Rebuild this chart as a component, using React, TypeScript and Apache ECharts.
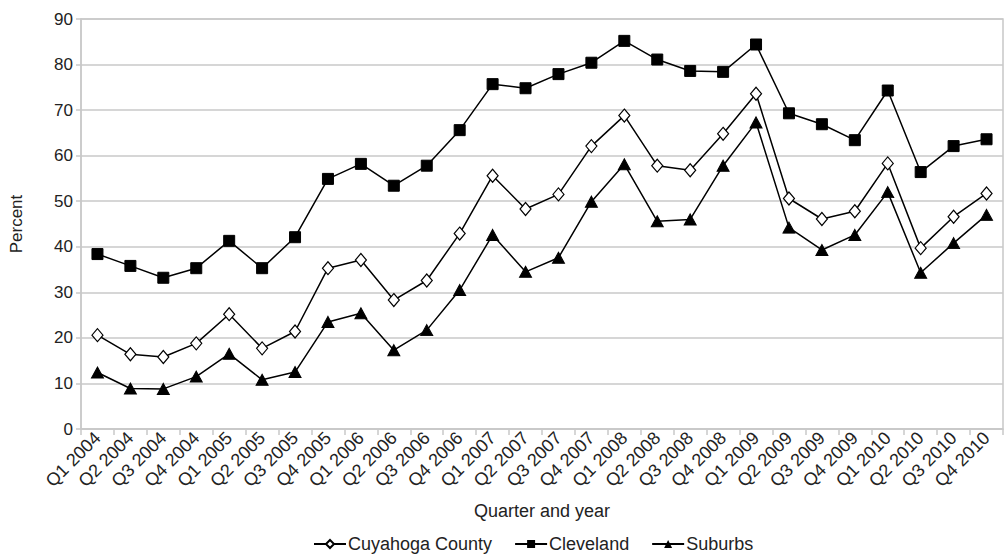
import React, { useEffect, useRef } from "react";
import * as echarts from "echarts";

const categories = [
  "Q1 2004", "Q2 2004", "Q3 2004", "Q4 2004",
  "Q1 2005", "Q2 2005", "Q3 2005", "Q4 2005",
  "Q1 2006", "Q2 2006", "Q3 2006", "Q4 2006",
  "Q1 2007", "Q2 2007", "Q3 2007", "Q4 2007",
  "Q1 2008", "Q2 2008", "Q3 2008", "Q4 2008",
  "Q1 2009", "Q2 2009", "Q3 2009", "Q4 2009",
  "Q1 2010", "Q2 2010", "Q3 2010", "Q4 2010",
];

const cuyahoga = [
  20.6, 16.4, 15.8, 18.8, 25.2, 17.7, 21.4, 35.3, 37.1, 28.3, 32.6, 42.9,
  55.6, 48.3, 51.5, 62.1, 68.8, 57.8, 56.8, 64.8, 73.6, 50.6, 46.1, 47.8,
  58.3, 39.7, 46.6, 51.7,
];

const cleveland = [
  38.4, 35.8, 33.2, 35.3, 41.3, 35.3, 42.1, 54.9, 58.2, 53.4, 57.8, 65.6,
  75.7, 74.8, 77.9, 80.4, 85.2, 81.1, 78.6, 78.4, 84.4, 69.3, 66.9, 63.4,
  74.3, 56.4, 62.1, 63.6,
];

const suburbs = [
  12.4, 8.9, 8.8, 11.5, 16.5, 10.8, 12.5, 23.5, 25.4, 17.3, 21.7, 30.5,
  42.6, 34.5, 37.6, 49.9, 58.1, 45.6, 46.0, 57.8, 67.3, 44.2, 39.3, 42.6,
  52.0, 34.3, 40.8, 47.0,
];

const FONT = "Liberation Sans, Arial, sans-serif";

export default function App() {
  const ref = useRef<HTMLDivElement>(null);
  useEffect(() => {
    if (!ref.current) return;
    const chart = echarts.init(ref.current, undefined, { renderer: "svg" });
    const lineStyle = { color: "#000", width: 1.5 };
    chart.setOption({
      animation: false,
      textStyle: { fontFamily: FONT, color: "#222" },
      grid: {
        left: 75,
        right: 1,
        top: 19,
        bottom: 126,
        show: true,
        borderColor: "#c8c8c8",
        borderWidth: 1.5,
      },
      legend: {
        top: 530,
        left: 308,
        itemGap: 22,
        itemWidth: 32,
        itemHeight: 10,
        textStyle: { fontFamily: FONT, fontSize: 18, color: "#222", padding: [0, 0, 0, -3] },
        data: ["Cuyahoga County", "Cleveland", "Suburbs"],
      },
      xAxis: {
        type: "category",
        data: categories,
        boundaryGap: true,
        name: "Quarter and year",
        nameLocation: "middle",
        nameGap: 73,
        nameTextStyle: { fontFamily: FONT, fontSize: 18, color: "#222" },
        axisLine: { lineStyle: { color: "#c8c8c8", width: 1.5 } },
        axisTick: { show: true, length: 6, lineStyle: { color: "#c8c8c8", width: 1.5 } },
        axisLabel: {
          rotate: 45,
          interval: 0,
          fontSize: 18,
          color: "#222",
          fontFamily: FONT,
          margin: 6,
        },
      },
      yAxis: {
        type: "value",
        min: 0,
        max: 90,
        interval: 10,
        name: "Percent",
        nameLocation: "middle",
        nameGap: 56,
        nameRotate: 90,
        nameTextStyle: { fontFamily: FONT, fontSize: 17, color: "#222" },
        axisLine: { show: true, lineStyle: { color: "#c8c8c8", width: 1.5 } },
        axisTick: { show: true, length: 5, lineStyle: { color: "#c8c8c8", width: 1.5 } },
        axisLabel: { fontSize: 17, color: "#222", fontFamily: FONT, margin: 8 },
        splitLine: { lineStyle: { color: "#c8c8c8", width: 1.5 } },
      },
      series: [
        {
          name: "Cuyahoga County",
          type: "line",
          data: cuyahoga,
          symbol: "diamond",
          symbolSize: [11, 13],
          showAllSymbol: true,
          lineStyle,
          itemStyle: { color: "#fff", borderColor: "#000", borderWidth: 1.2 },
        },
        {
          name: "Cleveland",
          type: "line",
          data: cleveland,
          symbol: "rect",
          symbolSize: 11,
          showAllSymbol: true,
          lineStyle,
          itemStyle: { color: "#000", borderColor: "#000" },
        },
        {
          name: "Suburbs",
          type: "line",
          data: suburbs,
          symbol: "triangle",
          symbolSize: [12, 11],
          showAllSymbol: true,
          lineStyle,
          itemStyle: { color: "#000", borderColor: "#000" },
        },
      ],
    });
    return () => chart.dispose();
  }, []);
  return <div ref={ref} style={{ width: 1004, height: 555, position: "absolute", left: 0, top: 0 }} />;
}
